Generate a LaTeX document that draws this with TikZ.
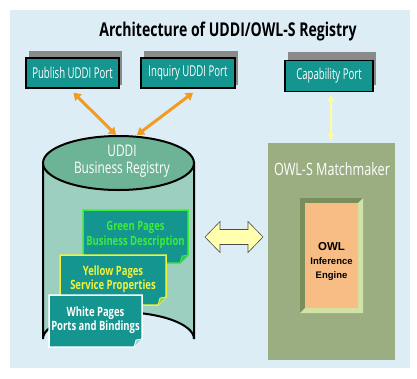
\documentclass[tikz,border=0pt]{standalone}
\usepackage{fontspec}
\setmainfont{Open Sans}
\newfontfamily\cond[FakeStretch=0.74]{Open Sans}
\newfontfamily\condn[FakeStretch=0.64]{Open Sans}
\newfontfamily\arialf{Liberation Sans}
\usetikzlibrary{arrows.meta,calc}
\definecolor{bg}{HTML}{DDEDF6}
\definecolor{teal}{HTML}{14958F}
\definecolor{shadowg}{HTML}{8A8A8A}
\definecolor{cylbody}{HTML}{9CCFBF}
\definecolor{cyltop}{HTML}{6DB496}
\definecolor{orangeA}{HTML}{F29B1E}
\definecolor{paleY}{HTML}{FFFF99}
\definecolor{olive}{HTML}{9BAE82}
\definecolor{oliveD}{HTML}{7A8E5C}
\definecolor{oliveL}{HTML}{D2E2A4}
\definecolor{peach}{HTML}{F8BD85}
\definecolor{greenT}{HTML}{3CEB3C}
\definecolor{yellowT}{HTML}{F2F23A}
\tikzset{
  port/.style={draw=black, line width=1.4pt, fill=teal, text=white,
    inner sep=0pt, font=\condn\fontsize{15}{16}\selectfont},
  portshadow/.style={fill=shadowg},
  oarrow/.style={draw=orangeA, line width=3pt, {Triangle[length=7pt,width=9pt]}-{Triangle[length=7pt,width=9pt]}},
  yarrow/.style={draw=paleY, line width=2pt, {Triangle[length=6pt,width=6pt]}-{Triangle[length=6pt,width=6pt]}},
  pagetext/.style={font=\cond\bfseries\fontsize{12.8}{14.5}\selectfont, align=center, inner sep=0pt},
}
\begin{document}
\begin{tikzpicture}[x=1pt,y=-1pt]
\useasboundingbox (0,0) rectangle (417,378);
\fill[white] (0,0) rectangle (417,378);
\fill[bg] (10,10) rectangle (410,368);
% title
\node[font=\cond\bfseries\fontsize{19}{21}\selectfont] (title) at (228,32) {Architecture of UDDI/OWL-S Registry};
% ports
\fill[portshadow] (29,51) rectangle (122,85);
\node[port, minimum width=93pt, minimum height=30pt] (pub) at (72.5,73) {Publish UDDI Port};
\fill[portshadow] (144,51) rectangle (238,85);
\node[port, minimum width=94pt, minimum height=30pt] (inq) at (188,73) {Inquiry UDDI Port};
\fill[portshadow] (288,52) rectangle (376,85);
\node[port, minimum width=88pt, minimum height=31pt] (cap) at (329,76) {Capability Port};
% cylinder
\filldraw[fill=cylbody, draw=black, line width=2pt]
  (43,163) -- (43,339) arc[start angle=180, end angle=360, x radius=75.5, y radius=27] -- (194,163) -- cycle;
\filldraw[fill=cyltop, draw=black, line width=2pt] (118.5,163) ellipse[x radius=75.5, y radius=27];
\node[font=\cond\fontsize{16}{17}\selectfont, text=white, align=center, inner sep=0pt] (reg) at (122,161) {UDDI\\Business Registry};
\coordinate (cyltopL) at (116,135);
\coordinate (cyltopR) at (137,135);
% green pages
\filldraw[fill=teal, draw=greenT, line width=1.5pt] (83,210) -- (188,210) -- (188,255) -- (180,263) -- (83,263) -- cycle;
\filldraw[fill=greenT!60!teal, draw=greenT, line width=0.8pt] (188,255) -- (182,256) -- (180,263);
\node[pagetext, text=greenT] (green) at (135.5,235) {Green Pages\\Business Description};
% yellow pages
\filldraw[fill=teal, draw=yellowT, line width=1.5pt] (60,255) -- (166,255) -- (166,297) -- (158,305) -- (60,305) -- cycle;
\filldraw[fill=yellowT!60!teal, draw=yellowT, line width=0.8pt] (166,297) -- (160,298) -- (158,305);
\node[pagetext, text=yellowT] (yellow) at (113,279) {Yellow Pages\\Service Properties};
% white pages
\filldraw[fill=teal, draw=white, line width=1.5pt] (49,295) -- (142,295) -- (142,339) -- (134,347) -- (49,347) -- cycle;
\filldraw[fill=white!60!teal, draw=white, line width=0.8pt] (142,339) -- (136,340) -- (134,347);
\node[pagetext, text=white] (white) at (95.5,320) {White Pages\\Ports and Bindings};
% matchmaker
\fill[olive] (268,143) rectangle (395,360);
\node[font=\cond\fontsize{17}{18}\selectfont, text=white, inner sep=0pt] (mmlabel) at (332,169) {OWL-S Matchmaker};
\fill[oliveD] (300,198) -- (363,198) -- (358,203) -- (305,203) -- (305,308) -- (300,313) -- cycle;
\fill[oliveL] (363,198) -- (363,313) -- (300,313) -- (305,308) -- (358,308) -- (358,203) -- cycle;
\fill[peach] (305,203) rectangle (358,308);
\node[font=\arialf\bfseries\fontsize{9.5}{14}\selectfont, align=center, inner sep=0pt] (engine) at (331.5,261)
  {{\fontsize{11.5}{14}\selectfont OWL}\\Inference\\Engine};
\coordinate (mm) at (331,143);
% connectors
\draw[oarrow] ($(pub.south)+(1,4)$) -- (cyltopL);
\draw[oarrow] ($(inq.south)+(5,4)$) -- (cyltopR);
\draw[yarrow] ($(cap.south)+(2,3)$) -- ($(mm)+(0,-3)$);
% double arrow
\coordinate (dL) at (205,237);
\coordinate (dR) at (263,237);
\filldraw[fill=paleY!80!white, draw=black!70, line width=0.6pt]
  (dL) -- ++(15,-15.5) -- ++(0,8) -- ($(dR)+(-15,-7.5)$) -- ++(0,-8) -- (dR) -- ++(-15,15.5) -- ++(0,-8) -- ($(dL)+(15,7.5)$) -- ++(0,8) -- cycle;
\end{tikzpicture}
\end{document}
